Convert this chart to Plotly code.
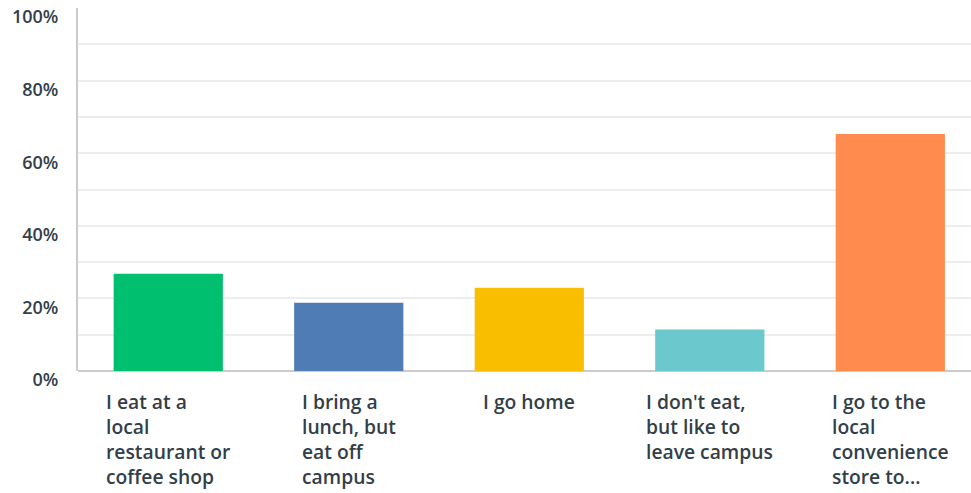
import plotly.graph_objects as go

# Survey answers and share of respondents (%)
categories = [
    "I eat at a<br>local<br>restaurant or<br>coffee shop",
    "I bring a<br>lunch, but<br>eat off<br>campus",
    "I go home",
    "I don't eat,<br>but like to<br>leave campus",
    "I go to the<br>local<br>convenience<br>store to...",
]
values = [26.8, 18.8, 22.9, 11.4, 65.3]
colors = ["#00bf6f", "#507cb6", "#f9be00", "#6bc8cd", "#ff8b4f"]
tick_vals = [0, 20, 40, 60, 80, 100]
tick_text = ["0%", "20%", "40%", "60%", "80%", "100%"]
grid_vals = [10, 20, 30, 40, 50, 60, 70, 80, 90]

FONT = "'Open Sans', Lato, sans-serif"
TEXT = "#333e48"

x_idx = list(range(len(categories)))

fig = go.Figure(
    go.Bar(
        x=x_idx,
        y=values,
        marker=dict(color=colors, line=dict(width=0)),
        width=0.605,
        hoverinfo="skip",
    )
)

# Left-aligned multi-line category labels centred under each bar
for i, label in zip(x_idx, categories):
    fig.add_annotation(
        x=i, y=0, xref="x", yref="y",
        text=label, showarrow=False,
        xanchor="center", yanchor="top", align="left",
        yshift=-15,
        font=dict(family=FONT, size=19.3, color=TEXT, weight=600),
    )

fig.update_layout(
    width=971, height=493,
    margin=dict(l=78, r=0, t=8, b=122),
    paper_bgcolor="white", plot_bgcolor="white",
    showlegend=False,
    bargap=0.4,
    xaxis=dict(
        range=[-0.5, 4.447],
        showticklabels=False, ticks="",
        showgrid=False, zeroline=False,
        showline=False, fixedrange=True,
    ),
    yaxis=dict(
        range=[0, 100],
        tickvals=tick_vals, ticktext=tick_text,
        showgrid=False,
        zeroline=True, zerolinecolor="#cccccc", zerolinewidth=2,
        showline=True, linecolor="#cccccc", linewidth=2,
        ticks="", ticklabelstandoff=14, ticklabelshift=9,
        tickfont=dict(family=FONT, size=18, color=TEXT, weight=600),
        minor=dict(tickvals=grid_vals, showgrid=True,
                   gridcolor="#ededed", gridwidth=2, ticks=""),
        fixedrange=True,
    ),
)

fig.write_html("out.html")
